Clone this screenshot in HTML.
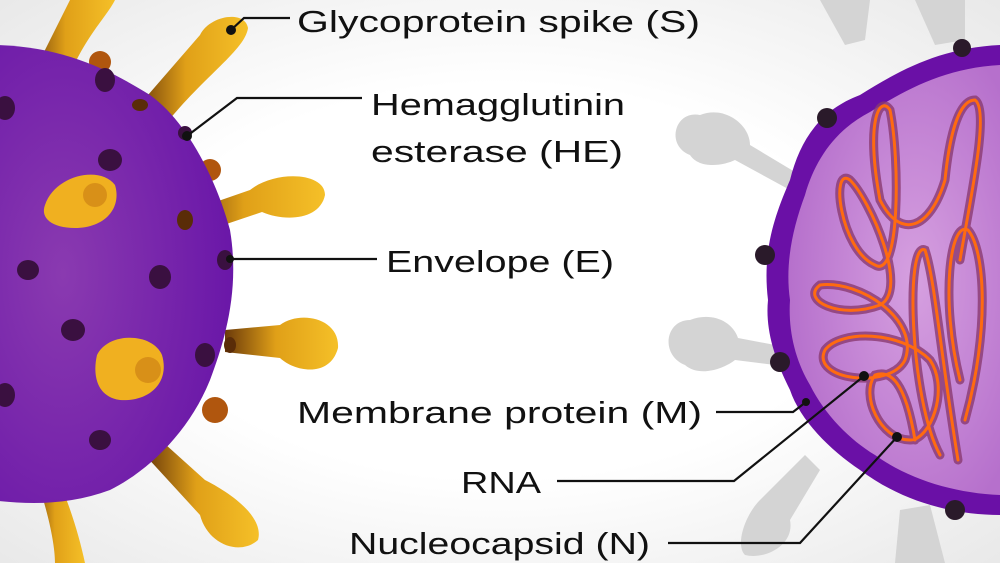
<!DOCTYPE html>
<html><head><meta charset="utf-8"><style>
html,body{margin:0;padding:0;background:#fff;}
svg{display:block;}
text{font-family:"Liberation Sans",sans-serif;font-size:31px;fill:#111;}
</style></head><body>
<svg width="1000" height="563" viewBox="0 0 1000 563" xmlns="http://www.w3.org/2000/svg">
<defs>
<radialGradient id="bg" cx="0.5" cy="0.5" r="0.7"><stop offset="0.5" stop-color="#ffffff"/><stop offset="1" stop-color="#e9e9e9"/></radialGradient>
<radialGradient id="pv" cx="0.3" cy="0.5" r="0.7"><stop offset="0" stop-color="#8a3ab0"/><stop offset="1" stop-color="#6a17a8"/></radialGradient>
<linearGradient id="yl" x1="0" y1="0" x2="1" y2="0"><stop offset="0" stop-color="#6b3a0a"/><stop offset="0.45" stop-color="#e0a018"/><stop offset="1" stop-color="#f5c028"/></linearGradient>
<radialGradient id="inn" cx="0.6" cy="0.5" r="0.6"><stop offset="0" stop-color="#d6a0e0"/><stop offset="1" stop-color="#b670cc"/></radialGradient>
</defs>
<rect width="1000" height="563" fill="url(#bg)"/>

<!-- right grey spikes -->
<g fill="#d4d4d4">
<path d="M820 0 L870 0 L865 40 L845 45 Z"/>
<path d="M915 0 L965 0 L965 40 L935 45 Z"/>
<path d="M700 115 C675 110 665 145 690 155 C700 170 725 165 735 160 L790 190 L800 175 L750 145 C750 125 725 105 700 115Z"/>
<path d="M690 320 C665 320 660 355 685 365 C700 378 725 368 735 360 L775 365 L775 345 L738 338 C732 320 710 312 690 320Z"/>
<path d="M760 500 L805 455 L820 470 L790 520 C795 545 765 560 745 555 C735 545 745 515 760 500Z"/>
<path d="M900 510 L930 505 L945 563 L895 563 Z"/>
</g>

<!-- right virus -->
<path d="M1000 45 C940 48 900 70 860 95 C820 110 800 140 790 180 C775 215 762 250 768 300 C765 330 775 360 790 390 C800 420 830 450 860 470 C900 500 950 515 1000 515 Z" fill="#6a10a6"/>
<path d="M1000 65 C945 68 905 90 870 112 C835 130 815 160 805 195 C792 230 785 265 790 300 C788 330 795 360 810 385 C825 415 850 440 875 455 C910 480 955 493 1000 495 Z" fill="url(#inn)"/>
<g fill="none" stroke-linecap="round">
<g stroke="#8a3a70" stroke-width="9" opacity="0.8">
<path d="M965 420 C990 330 985 250 968 230 C950 220 940 300 960 380 M958 460 C940 350 935 280 925 250 C905 240 910 400 940 455 M915 440 C905 380 890 370 875 375 C860 395 880 440 910 440 C930 440 950 390 930 360 C900 330 840 330 825 350 C810 380 890 390 905 360 C920 320 860 280 820 285 C800 300 840 320 880 305 C910 290 870 200 850 180 C830 165 840 250 875 265 C900 280 900 160 890 110 C880 95 865 120 880 200 C900 240 930 230 945 180 C950 130 960 100 975 100 C990 110 970 200 960 260"/>
</g>
<g stroke="#ff6a10" stroke-width="3">
<path d="M965 420 C990 330 985 250 968 230 C950 220 940 300 960 380 M958 460 C940 350 935 280 925 250 C905 240 910 400 940 455 M915 440 C905 380 890 370 875 375 C860 395 880 440 910 440 C930 440 950 390 930 360 C900 330 840 330 825 350 C810 380 890 390 905 360 C920 320 860 280 820 285 C800 300 840 320 880 305 C910 290 870 200 850 180 C830 165 840 250 875 265 C900 280 900 160 890 110 C880 95 865 120 880 200 C900 240 930 230 945 180 C950 130 960 100 975 100 C990 110 970 200 960 260"/>
</g>
</g>
<g fill="#2a1a2a">
<circle cx="962" cy="48" r="9"/><circle cx="827" cy="118" r="10"/><circle cx="765" cy="255" r="10"/><circle cx="780" cy="362" r="10"/><circle cx="955" cy="510" r="10"/>
</g>

<!-- left spikes behind -->
<g fill="url(#yl)">
<path d="M25 90 L70 0 L115 0 C105 20 80 40 60 100 Z"/>
<path d="M135 110 L200 35 C210 15 245 10 248 28 C245 50 205 75 165 125 Z"/>
<path d="M178 215 L250 190 C275 170 325 172 325 195 C320 220 285 222 262 212 L185 238 Z"/>
<path d="M225 330 L280 325 C300 310 340 318 338 348 C330 378 295 372 280 358 L225 352 Z"/>
<path d="M155 435 L205 480 C225 490 265 515 258 540 C240 556 208 545 200 515 L145 455 Z"/>
<path d="M30 460 C45 500 55 540 55 563 L85 563 C78 530 65 490 48 458 Z"/>
</g>
<g fill="#b0560e"><circle cx="100" cy="62" r="11"/><circle cx="210" cy="170" r="11"/><circle cx="215" cy="410" r="13"/></g>

<!-- left virus -->
<path d="M-10 45 C60 45 110 70 150 95 C185 120 215 175 230 230 C240 290 225 340 210 380 C190 430 150 470 110 490 C70 505 30 505 -10 500 Z" fill="url(#pv)"/>
<g fill="#3a1040">
<ellipse cx="105" cy="80" rx="10" ry="12"/><ellipse cx="5" cy="108" rx="10" ry="12"/><ellipse cx="110" cy="160" rx="12" ry="11"/>
<ellipse cx="28" cy="270" rx="11" ry="10"/><ellipse cx="160" cy="277" rx="11" ry="12"/><ellipse cx="73" cy="330" rx="12" ry="11"/>
<ellipse cx="205" cy="355" rx="10" ry="12"/><ellipse cx="5" cy="395" rx="10" ry="12"/><ellipse cx="100" cy="440" rx="11" ry="10"/>
<ellipse cx="225" cy="260" rx="8" ry="10"/><circle cx="185" cy="133" r="7"/>
</g>
<g fill="#5a2c08"><ellipse cx="140" cy="105" rx="8" ry="6"/><ellipse cx="185" cy="220" rx="8" ry="10"/><ellipse cx="230" cy="345" rx="6" ry="8"/></g>
<g fill="#f0b020">
<path d="M45 205 C55 175 100 165 115 185 C122 208 105 228 75 228 C52 228 40 218 45 205Z"/>
<path d="M97 355 C108 332 152 332 162 355 C170 382 150 402 120 400 C98 397 92 377 97 355Z"/>
</g>
<g fill="#d89018"><circle cx="95" cy="195" r="12"/><circle cx="148" cy="370" r="13"/></g>

<!-- connectors -->
<g stroke="#111" stroke-width="2.2" fill="none">
<polyline points="231,30 244,18 290,18"/>
<polyline points="187,136 237,98 362,98"/>
<polyline points="230,259 377,259"/>
<polyline points="716,412 793,412 806,402"/>
<polyline points="557,481 734,481 864,376"/>
<polyline points="668,543 800,543 897,437"/>
</g>
<g fill="#111">
<circle cx="231" cy="30" r="5"/><circle cx="187" cy="136" r="5"/><circle cx="230" cy="259" r="4"/>
<circle cx="806" cy="402" r="4"/><circle cx="864" cy="376" r="5"/><circle cx="897" cy="437" r="5"/>
</g>

<!-- labels -->
<text x="297" y="32" textLength="403" lengthAdjust="spacingAndGlyphs">Glycoprotein spike  (S)</text>
<text x="371" y="115" textLength="254" lengthAdjust="spacingAndGlyphs">Hemagglutinin</text>
<text x="371" y="162" textLength="252" lengthAdjust="spacingAndGlyphs">esterase (HE)</text>
<text x="386" y="272" textLength="228" lengthAdjust="spacingAndGlyphs">Envelope  (E)</text>
<text x="297" y="423" textLength="405" lengthAdjust="spacingAndGlyphs">Membrane protein (M)</text>
<text x="461" y="493" textLength="80" lengthAdjust="spacingAndGlyphs">RNA</text>
<text x="349" y="554" textLength="301" lengthAdjust="spacingAndGlyphs">Nucleocapsid (N)</text>
</svg>
</body></html>
